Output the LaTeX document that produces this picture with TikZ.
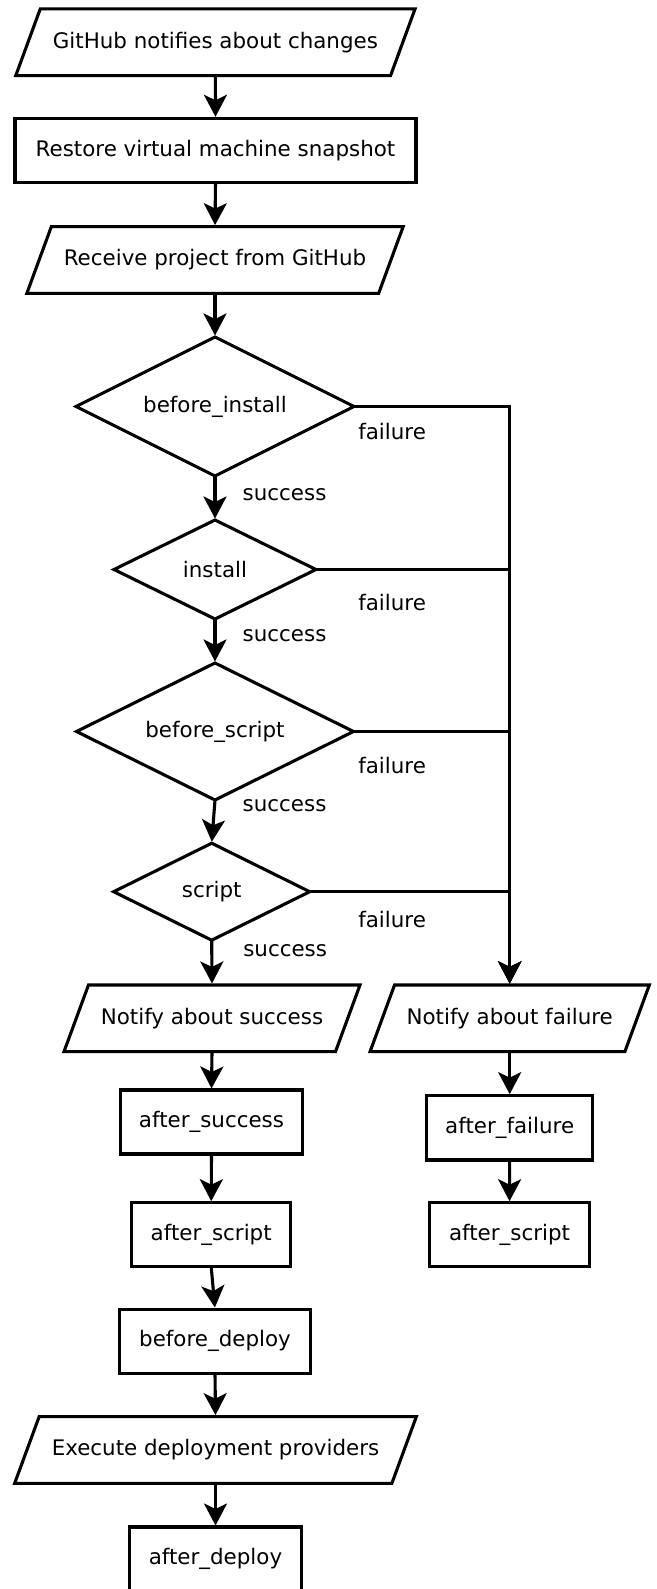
\documentclass[tikz,border=0pt]{standalone}
\usepackage{fontspec}
\setmainfont{DejaVu Sans}
\usetikzlibrary{arrows.meta,calc}

\begin{document}
\begin{tikzpicture}[x=1pt,y=-1pt,
  every node/.style={font=\fontsize{21.4pt}{25pt}\selectfont, inner sep=0pt, outer sep=0pt},
  lw/.style={line width=3.1pt},
  process/.style={draw, lw, rectangle, minimum height=64pt},
  io/.style={rectangle, minimum height=66.7pt},
  decision/.style={rectangle},
  arrow/.style={lw, -{Stealth[length=22pt,width=23pt,inset=5.5pt]}, shorten >=1.5pt},
  lbl/.style={anchor=west}
]
\useasboundingbox (0,0) rectangle (656,1589);

% main column
\node[io, minimum width=399.3pt] (n1) at (215.4,42.3) {GitHub notifies about changes};
\node[process, minimum width=401pt, minimum height=64.4pt] (n2) at (215.5,150.5) {Restore virtual machine snapshot};
\node[io, minimum width=376.3pt] (n3) at (215,260) {Receive project from GitHub};

\node[decision, minimum width=278pt, minimum height=139pt] (d1) at (215,406.5) {before\_install};
\node[decision, minimum width=202pt, minimum height=99pt] (d2) at (215,569.5) {install};
\node[decision, minimum width=277pt, minimum height=137pt] (d3) at (215,731.5) {before\_script};
\node[decision, minimum width=196pt, minimum height=97pt] (d4) at (211.7,891.7) {script};

\node[io, minimum width=296pt] (ns) at (212,1018.3) {Notify about success};
\node[process, minimum width=182.7pt] (as) at (211.5,1122) {after\_success};
\node[process, minimum width=159pt] (asl) at (211.2,1234.7) {after\_script};
\node[process, minimum width=191.4pt, minimum height=64.3pt] (bd) at (215,1341.2) {before\_deploy};
\node[io, minimum width=401.7pt] (ne) at (215.5,1450) {Execute deployment providers};
\node[process, minimum width=171.7pt] (ad) at (215.5,1559) {after\_deploy};

% failure column
\node[io, minimum width=279.3pt] (nf) at (509.7,1018.3) {Notify about failure};
\node[process, minimum width=166pt, minimum height=64.3pt] (af) at (509.7,1127.8) {after\_failure};
\node[process, minimum width=160pt] (asr) at (509.5,1234.7) {after\_script};

% slanted outlines of the input/output nodes
\foreach \n in {n1,n3,ns,nf,ne}
  \draw[lw] ($(\n.north west)+(24.5,0)$) -- (\n.north east)
    -- ($(\n.south east)-(24.5,0)$) -- (\n.south west) -- cycle;

% diamond outlines of the decision nodes
\foreach \n in {d1,d2,d3,d4}
  \draw[lw] (\n.north) -- (\n.east) -- (\n.south) -- (\n.west) -- cycle;

% main flow
\draw[arrow] (n1.south) -- (n2.north);
\draw[arrow] (n2.south) -- (n3.north);
\draw[arrow] (n3.south) -- (d1.north);
\draw[arrow] (d1.south) -- (d2.north);
\draw[arrow] (d2.south) -- (d3.north);
\draw[arrow] (d3.south) -- (d4.north);
\draw[arrow] (d4.south) -- (ns.north);
\draw[arrow] (ns.south) -- (as.north);
\draw[arrow] (as.south) -- (asl.north);
\draw[arrow] (asl.south) -- (bd.north);
\draw[arrow] (bd.south) -- (ne.north);
\draw[arrow] (ne.south) -- (ad.north);

% failure branches
\foreach \d in {d1,d2,d3,d4}
  \draw[arrow] (\d.east) -| (nf.north);
\draw[arrow] (nf.south) -- (af.north);
\draw[arrow] (af.south) -- (asr.north);

% branch labels
\node[lbl] (s1) at (242.7,494.3) {success};
\node[lbl] (s2) at (242.7,636) {success};
\node[lbl] (s3) at (242.7,806) {success};
\node[lbl] (s4) at (243.3,951) {success};
\node[lbl] (f1) at (358.3,431.7) {failure};
\node[lbl] (f2) at (358.3,602.7) {failure};
\node[lbl] (f3) at (358.3,765.7) {failure};
\node[lbl] (f4) at (358.3,920) {failure};
\end{tikzpicture}
\end{document}
